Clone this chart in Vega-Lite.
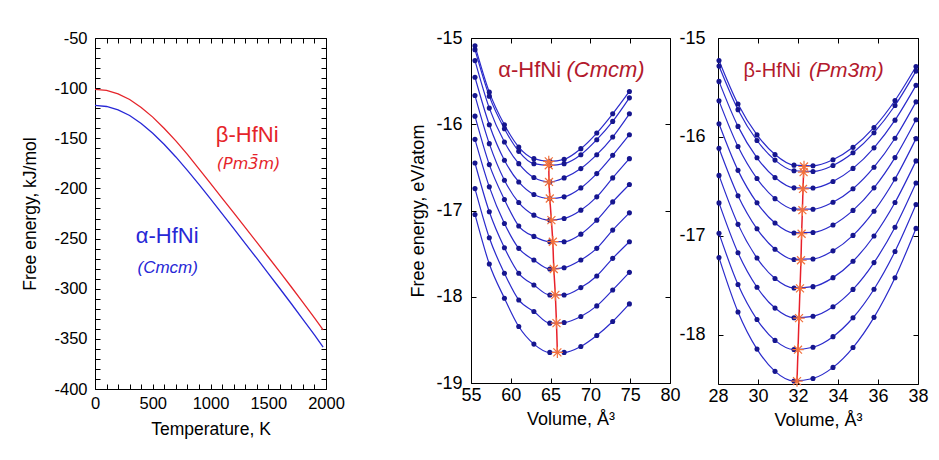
{
"$schema":"https://vega.github.io/schema/vega-lite/v6.json",
"padding":{"left":21,"top":28,"right":0,"bottom":0},
"background":"white",
"config":{
 "font":"Liberation Sans",
 "view":{"stroke":"black","strokeWidth":1},
 "axis":{"grid":false,"domain":false,"labelColor":"black","titleColor":"black","tickColor":"black","tickWidth":1,"titleFontWeight":"normal","labelFont":"Liberation Sans","titleFont":"Liberation Sans","labelOverlap":false,"labelFlush":false,"labelBound":false},
 "locale":{"number":{"decimal":".","thousands":"","grouping":[3],"currency":["$",""],"minus":"-"}}
},
"datasets":{
 "p1":[
  {"phase":"beta","T":0,"G":-101.2},{"phase":"beta","T":100,"G":-102.3},{"phase":"beta","T":200,"G":-105.7},{"phase":"beta","T":300,"G":-111.3},{"phase":"beta","T":400,"G":-119.2},{"phase":"beta","T":500,"G":-128.9},{"phase":"beta","T":600,"G":-140.2},{"phase":"beta","T":700,"G":-152.6},{"phase":"beta","T":800,"G":-166.0},{"phase":"beta","T":900,"G":-180.5},{"phase":"beta","T":1000,"G":-195.0},{"phase":"beta","T":1100,"G":-209.6},{"phase":"beta","T":1200,"G":-224.2},{"phase":"beta","T":1300,"G":-238.9},{"phase":"beta","T":1400,"G":-253.6},{"phase":"beta","T":1500,"G":-268.4},{"phase":"beta","T":1600,"G":-283.3},{"phase":"beta","T":1700,"G":-298.3},{"phase":"beta","T":1800,"G":-313.6},{"phase":"beta","T":1900,"G":-329.0},{"phase":"beta","T":1975,"G":-341.0},
  {"phase":"alpha","T":0,"G":-117.2},{"phase":"alpha","T":100,"G":-118.3},{"phase":"alpha","T":200,"G":-121.7},{"phase":"alpha","T":300,"G":-127.3},{"phase":"alpha","T":400,"G":-135.2},{"phase":"alpha","T":500,"G":-144.9},{"phase":"alpha","T":600,"G":-156.2},{"phase":"alpha","T":700,"G":-168.6},{"phase":"alpha","T":800,"G":-182.0},{"phase":"alpha","T":900,"G":-196.0},{"phase":"alpha","T":1000,"G":-210.4},{"phase":"alpha","T":1100,"G":-225.1},{"phase":"alpha","T":1200,"G":-239.8},{"phase":"alpha","T":1300,"G":-254.7},{"phase":"alpha","T":1400,"G":-269.6},{"phase":"alpha","T":1500,"G":-284.7},{"phase":"alpha","T":1600,"G":-299.8},{"phase":"alpha","T":1700,"G":-315.0},{"phase":"alpha","T":1800,"G":-330.5},{"phase":"alpha","T":1900,"G":-346.0},{"phase":"alpha","T":1975,"G":-358.3}
 ],
 "p2":[
  {"c":1,"V":55.5,"E":-15.089},{"c":1,"V":57.3,"E":-15.628},{"c":1,"V":59.2,"E":-16.006},{"c":1,"V":61.0,"E":-16.264},{"c":1,"V":62.9,"E":-16.399},{"c":1,"V":64.9,"E":-16.430},{"c":1,"V":66.7,"E":-16.407},{"c":1,"V":68.8,"E":-16.283},{"c":1,"V":70.8,"E":-16.102},{"c":1,"V":72.8,"E":-15.879},{"c":1,"V":74.9,"E":-15.620},
  {"c":2,"V":55.5,"E":-15.135},{"c":2,"V":57.3,"E":-15.674},{"c":2,"V":59.2,"E":-16.052},{"c":2,"V":61.0,"E":-16.314},{"c":2,"V":62.9,"E":-16.457},{"c":2,"V":64.9,"E":-16.476},{"c":2,"V":66.7,"E":-16.457},{"c":2,"V":68.8,"E":-16.353},{"c":2,"V":70.8,"E":-16.179},{"c":2,"V":72.8,"E":-15.967},{"c":2,"V":74.9,"E":-15.694},
  {"c":3,"V":55.5,"E":-15.262},{"c":3,"V":57.3,"E":-15.813},{"c":3,"V":59.2,"E":-16.206},{"c":3,"V":61.0,"E":-16.457},{"c":3,"V":62.9,"E":-16.618},{"c":3,"V":64.9,"E":-16.669},{"c":3,"V":66.7,"E":-16.622},{"c":3,"V":68.8,"E":-16.514},{"c":3,"V":70.8,"E":-16.353},{"c":3,"V":72.8,"E":-16.148},{"c":3,"V":74.9,"E":-15.879},
  {"c":4,"V":55.5,"E":-15.455},{"c":4,"V":57.3,"E":-16.006},{"c":4,"V":59.2,"E":-16.418},{"c":4,"V":61.0,"E":-16.669},{"c":4,"V":62.9,"E":-16.815},{"c":4,"V":64.9,"E":-16.861},{"c":4,"V":66.7,"E":-16.842},{"c":4,"V":68.8,"E":-16.738},{"c":4,"V":70.8,"E":-16.572},{"c":4,"V":72.8,"E":-16.360},{"c":4,"V":74.9,"E":-16.121},
  {"c":5,"V":55.5,"E":-15.667},{"c":5,"V":57.3,"E":-16.225},{"c":5,"V":59.2,"E":-16.649},{"c":5,"V":61.0,"E":-16.908},{"c":5,"V":62.9,"E":-17.054},{"c":5,"V":64.9,"E":-17.112},{"c":5,"V":66.7,"E":-17.092},{"c":5,"V":68.8,"E":-16.996},{"c":5,"V":70.8,"E":-16.842},{"c":5,"V":72.8,"E":-16.622},{"c":5,"V":74.9,"E":-16.399},
  {"c":6,"V":55.5,"E":-15.906},{"c":6,"V":57.3,"E":-16.468},{"c":6,"V":59.2,"E":-16.873},{"c":6,"V":61.0,"E":-17.180},{"c":6,"V":62.9,"E":-17.300},{"c":6,"V":64.9,"E":-17.362},{"c":6,"V":66.7,"E":-17.362},{"c":6,"V":68.8,"E":-17.274},{"c":6,"V":70.8,"E":-17.112},{"c":6,"V":72.8,"E":-16.900},{"c":6,"V":74.9,"E":-16.699},
  {"c":7,"V":55.5,"E":-16.175},{"c":7,"V":57.3,"E":-16.726},{"c":7,"V":59.2,"E":-17.150},{"c":7,"V":61.0,"E":-17.439},{"c":7,"V":62.9,"E":-17.574},{"c":7,"V":64.9,"E":-17.678},{"c":7,"V":66.7,"E":-17.663},{"c":7,"V":68.8,"E":-17.574},{"c":7,"V":70.8,"E":-17.439},{"c":7,"V":72.8,"E":-17.227},{"c":7,"V":74.9,"E":-17.027},
  {"c":8,"V":55.5,"E":-16.449},{"c":8,"V":57.3,"E":-17.015},{"c":8,"V":59.2,"E":-17.432},{"c":8,"V":61.0,"E":-17.728},{"c":8,"V":62.9,"E":-17.863},{"c":8,"V":64.9,"E":-17.979},{"c":8,"V":66.7,"E":-17.979},{"c":8,"V":68.8,"E":-17.894},{"c":8,"V":70.8,"E":-17.759},{"c":8,"V":72.8,"E":-17.555},{"c":8,"V":74.9,"E":-17.362},
  {"c":9,"V":55.5,"E":-16.746},{"c":9,"V":57.3,"E":-17.316},{"c":9,"V":59.2,"E":-17.728},{"c":9,"V":61.0,"E":-18.037},{"c":9,"V":62.9,"E":-18.171},{"c":9,"V":64.9,"E":-18.306},{"c":9,"V":66.7,"E":-18.299},{"c":9,"V":68.8,"E":-18.229},{"c":9,"V":70.8,"E":-18.106},{"c":9,"V":72.8,"E":-17.921},{"c":9,"V":74.9,"E":-17.717},
  {"c":10,"V":55.5,"E":-17.046},{"c":10,"V":57.3,"E":-17.620},{"c":10,"V":59.2,"E":-18.017},{"c":10,"V":61.0,"E":-18.345},{"c":10,"V":62.9,"E":-18.549},{"c":10,"V":64.9,"E":-18.645},{"c":10,"V":66.7,"E":-18.645},{"c":10,"V":68.8,"E":-18.576},{"c":10,"V":70.8,"E":-18.449},{"c":10,"V":72.8,"E":-18.287},{"c":10,"V":74.9,"E":-18.083}
 ],
 "p2min":[
  {"c":1,"V":64.77,"E":-16.43},{"c":2,"V":64.77,"E":-16.476},{"c":3,"V":64.8,"E":-16.669},{"c":4,"V":64.9,"E":-16.861},{"c":5,"V":65.1,"E":-17.112},{"c":6,"V":65.28,"E":-17.362},{"c":7,"V":65.4,"E":-17.678},{"c":8,"V":65.6,"E":-17.979},{"c":9,"V":65.74,"E":-18.306},{"c":10,"V":65.85,"E":-18.645}
 ],
 "p3":[
  {"c":1,"V":28.05,"E":-15.227},{"c":1,"V":29.0,"E":-15.668},{"c":1,"V":29.95,"E":-15.980},{"c":1,"V":30.85,"E":-16.178},{"c":1,"V":31.8,"E":-16.286},{"c":1,"V":32.75,"E":-16.293},{"c":1,"V":33.75,"E":-16.232},{"c":1,"V":34.75,"E":-16.106},{"c":1,"V":35.8,"E":-15.905},{"c":1,"V":36.85,"E":-15.632},{"c":1,"V":37.9,"E":-15.288},
  {"c":2,"V":28.05,"E":-15.284},{"c":2,"V":29.0,"E":-15.725},{"c":2,"V":29.95,"E":-16.037},{"c":2,"V":30.85,"E":-16.235},{"c":2,"V":31.8,"E":-16.343},{"c":2,"V":32.75,"E":-16.350},{"c":2,"V":33.75,"E":-16.289},{"c":2,"V":34.75,"E":-16.161},{"c":2,"V":35.8,"E":-15.958},{"c":2,"V":36.85,"E":-15.683},{"c":2,"V":37.9,"E":-15.335},
  {"c":3,"V":28.05,"E":-15.439},{"c":3,"V":29.0,"E":-15.894},{"c":3,"V":29.95,"E":-16.212},{"c":3,"V":30.85,"E":-16.412},{"c":3,"V":31.8,"E":-16.516},{"c":3,"V":32.75,"E":-16.518},{"c":3,"V":33.75,"E":-16.451},{"c":3,"V":34.75,"E":-16.319},{"c":3,"V":35.8,"E":-16.111},{"c":3,"V":36.85,"E":-15.831},{"c":3,"V":37.9,"E":-15.479},
  {"c":4,"V":28.05,"E":-15.636},{"c":4,"V":29.0,"E":-16.098},{"c":4,"V":29.95,"E":-16.422},{"c":4,"V":30.85,"E":-16.625},{"c":4,"V":31.8,"E":-16.731},{"c":4,"V":32.75,"E":-16.732},{"c":4,"V":33.75,"E":-16.662},{"c":4,"V":34.75,"E":-16.525},{"c":4,"V":35.8,"E":-16.307},{"c":4,"V":36.85,"E":-16.014},{"c":4,"V":37.9,"E":-15.646},
  {"c":5,"V":28.05,"E":-15.867},{"c":5,"V":29.0,"E":-16.339},{"c":5,"V":29.95,"E":-16.667},{"c":5,"V":30.85,"E":-16.871},{"c":5,"V":31.8,"E":-16.972},{"c":5,"V":32.75,"E":-16.967},{"c":5,"V":33.75,"E":-16.891},{"c":5,"V":34.75,"E":-16.744},{"c":5,"V":35.8,"E":-16.516},{"c":5,"V":36.85,"E":-16.210},{"c":5,"V":37.9,"E":-15.827},
  {"c":6,"V":28.05,"E":-16.115},{"c":6,"V":29.0,"E":-16.595},{"c":6,"V":29.95,"E":-16.930},{"c":6,"V":30.85,"E":-17.137},{"c":6,"V":31.8,"E":-17.240},{"c":6,"V":32.75,"E":-17.235},{"c":6,"V":33.75,"E":-17.153},{"c":6,"V":34.75,"E":-16.997},{"c":6,"V":35.8,"E":-16.752},{"c":6,"V":36.85,"E":-16.426},{"c":6,"V":37.9,"E":-16.018},
  {"c":7,"V":28.05,"E":-16.390},{"c":7,"V":29.0,"E":-16.885},{"c":7,"V":29.95,"E":-17.226},{"c":7,"V":30.85,"E":-17.433},{"c":7,"V":31.8,"E":-17.529},{"c":7,"V":32.75,"E":-17.515},{"c":7,"V":33.75,"E":-17.424},{"c":7,"V":34.75,"E":-17.258},{"c":7,"V":35.8,"E":-17.003},{"c":7,"V":36.85,"E":-16.664},{"c":7,"V":37.9,"E":-16.243},
  {"c":8,"V":28.05,"E":-16.668},{"c":8,"V":29.0,"E":-17.173},{"c":8,"V":29.95,"E":-17.521},{"c":8,"V":30.85,"E":-17.732},{"c":8,"V":31.8,"E":-17.830},{"c":8,"V":32.75,"E":-17.815},{"c":8,"V":33.75,"E":-17.719},{"c":8,"V":34.75,"E":-17.543},{"c":8,"V":35.8,"E":-17.272},{"c":8,"V":36.85,"E":-16.914},{"c":8,"V":37.9,"E":-16.467},
  {"c":9,"V":28.05,"E":-16.976},{"c":9,"V":29.0,"E":-17.494},{"c":9,"V":29.95,"E":-17.848},{"c":9,"V":30.85,"E":-18.059},{"c":9,"V":31.8,"E":-18.151},{"c":9,"V":32.75,"E":-18.128},{"c":9,"V":33.75,"E":-18.021},{"c":9,"V":34.75,"E":-17.830},{"c":9,"V":35.8,"E":-17.541},{"c":9,"V":36.85,"E":-17.159},{"c":9,"V":37.9,"E":-16.685},
  {"c":10,"V":28.05,"E":-17.221},{"c":10,"V":29.0,"E":-17.771},{"c":10,"V":29.95,"E":-18.147},{"c":10,"V":30.85,"E":-18.372},{"c":10,"V":31.8,"E":-18.469},{"c":10,"V":32.75,"E":-18.444},{"c":10,"V":33.75,"E":-18.332},{"c":10,"V":34.75,"E":-18.131},{"c":10,"V":35.8,"E":-17.826},{"c":10,"V":36.85,"E":-17.425},{"c":10,"V":37.9,"E":-16.926}
 ],
 "p3min":[
  {"c":1,"V":32.3,"E":-16.300},{"c":2,"V":32.28,"E":-16.357},{"c":3,"V":32.25,"E":-16.527},{"c":4,"V":32.22,"E":-16.742},{"c":5,"V":32.18,"E":-16.980},{"c":6,"V":32.15,"E":-17.248},{"c":7,"V":32.1,"E":-17.533},{"c":8,"V":32.05,"E":-17.834},{"c":9,"V":32.0,"E":-18.153},{"c":10,"V":31.95,"E":-18.471}
 ]
},
"spacing":64,
"hconcat":[
 {
  "width":231,"height":351,
  "layer":[
   {"data":{"name":"p1"},"mark":{"type":"line","strokeWidth":1.3},
    "encoding":{
     "x":{"field":"T","type":"quantitative","scale":{"domain":[0,2000],"nice":false,"zero":false},
      "axis":{"orient":"bottom","values":[0,100,200,300,400,500,600,700,800,900,1000,1100,1200,1300,1400,1500,1600,1700,1800,1900,2000],"format":"d","labelExpr":"datum.value % 500 == 0 ? datum.label : ''","ticks":false,"labelPadding":6,"labelFontSize":16.5,"title":"Temperature, K","titleFontSize":17.5,"titlePadding":9,"grid":true,"gridColor":"black","gridOpacity":1,"gridWidth":1,"gridDash":[5,341,5,1000]}},
     "y":{"field":"G","type":"quantitative","scale":{"domain":[-400,-50],"nice":false,"zero":false},
      "axis":{"orient":"left","values":[-50,-60,-70,-80,-90,-100,-110,-120,-130,-140,-150,-160,-170,-180,-190,-200,-210,-220,-230,-240,-250,-260,-270,-280,-290,-300,-310,-320,-330,-340,-350,-360,-370,-380,-390,-400],"format":"d","labelExpr":"datum.value % 50 == 0 ? datum.label : ''","ticks":false,"labelPadding":8,"labelFontSize":16.5,"title":"Free energy,  kJ/mol","titleFontSize":17.5,"titlePadding":14,"grid":true,"gridColor":"black","gridOpacity":1,"gridWidth":1,"gridDash":[5,221,5,1000]}},
     "color":{"field":"phase","type":"nominal","scale":{"domain":["alpha","beta"],"range":["#2727d6","#e5242a"]},"legend":null}
    }},
   {"data":{"values":[{}]},"mark":{"type":"text","text":"β-HfNi","align":"left","baseline":"alphabetic","fontSize":22,"color":"#e5242a"},
    "encoding":{"x":{"datum":1046,"type":"quantitative","axis":null},"y":{"datum":-154.2,"type":"quantitative","axis":null}}},
   {"data":{"values":[{}]},"mark":{"type":"text","text":"(Pm3̄m)","font":"DejaVu Sans","align":"left","baseline":"alphabetic","fontSize":16,"fontStyle":"italic","color":"#e5242a"},
    "encoding":{"x":{"datum":1055,"type":"quantitative","axis":null},"y":{"datum":-180.6,"type":"quantitative","axis":null}}},
   {"data":{"values":[{}]},"mark":{"type":"text","text":"α-HfNi","align":"left","baseline":"alphabetic","fontSize":22,"color":"#2727d6"},
    "encoding":{"x":{"datum":353,"type":"quantitative","axis":null},"y":{"datum":-254.7,"type":"quantitative","axis":null}}},
   {"data":{"values":[{}]},"mark":{"type":"text","text":"(Cmcm)","align":"left","baseline":"alphabetic","fontSize":17,"fontStyle":"italic","color":"#2727d6"},
    "encoding":{"x":{"datum":368,"type":"quantitative","axis":null},"y":{"datum":-284.8,"type":"quantitative","axis":null}}}
  ],
  "resolve":{"axis":{"x":"independent","y":"independent"}}
 },
 {
  "spacing":-3,
  "hconcat":[
   {
    "width":199,"height":345,
    "layer":[
     {"data":{"name":"p2"},"mark":{"type":"line","interpolate":"monotone","strokeWidth":1.2,"color":"#2a2acb"},
      "encoding":{
       "x":{"field":"V","type":"quantitative","scale":{"domain":[55,80],"nice":false,"zero":false},
        "axis":{"orient":"bottom","values":[55,60,65,70,75,80],"format":"d","ticks":false,"labelPadding":3,"labelFontSize":18,"title":"Volume,  Å³","titleFontSize":18,"titlePadding":6,"grid":true,"gridColor":"black","gridOpacity":1,"gridWidth":1,"gridDash":[5,335,5,1000]}},
       "y":{"field":"E","type":"quantitative","scale":{"domain":[-19,-15],"nice":false,"zero":false},
        "axis":{"orient":"left","values":[-15,-15.5,-16,-16.5,-17,-17.5,-18,-18.5,-19],"format":"d","labelExpr":"datum.value % 1 == 0 ? datum.label : ''","ticks":false,"labelPadding":9,"labelFontSize":18,"title":"Free energy,  eV/atom","titleFontSize":18,"titlePadding":8,"grid":true,"gridColor":"black","gridOpacity":1,"gridWidth":1,"gridDash":[5,189,5,1000]}},
       "detail":{"field":"c","type":"nominal"}
      }},
     {"data":{"name":"p2"},"mark":{"type":"circle","size":26,"opacity":1,"color":"#16168f"},
      "encoding":{"x":{"field":"V","type":"quantitative","axis":null},"y":{"field":"E","type":"quantitative","axis":null}}},
     {"data":{"name":"p2min"},"mark":{"type":"line","color":"#e8202a","strokeWidth":1.5},
      "encoding":{"x":{"field":"V","type":"quantitative","axis":null},"y":{"field":"E","type":"quantitative","axis":null},"order":{"field":"c","type":"quantitative"}}},
     {"data":{"name":"p2min"},"mark":{"type":"point","shape":"M-1,0L1,0M0,-1L0,1M-0.7,-0.7L0.7,0.7M-0.7,0.7L0.7,-0.7","size":130,"filled":false,"stroke":"#f2703c","strokeWidth":1.2,"opacity":1},
      "encoding":{"x":{"field":"V","type":"quantitative","axis":null},"y":{"field":"E","type":"quantitative","axis":null}}},
     {"data":{"values":[{}]},"mark":{"type":"text","text":"α-HfNi","align":"left","baseline":"alphabetic","fontSize":22,"color":"#b3192c"},
      "encoding":{"x":{"datum":58.42,"type":"quantitative","axis":null},"y":{"datum":-15.454,"type":"quantitative","axis":null}}},
     {"data":{"values":[{}]},"mark":{"type":"text","text":"(Cmcm)","align":"left","baseline":"alphabetic","fontSize":22,"fontStyle":"italic","color":"#b3192c"},
      "encoding":{"x":{"datum":66.99,"type":"quantitative","axis":null},"y":{"datum":-15.454,"type":"quantitative","axis":null}}}
    ],
    "resolve":{"axis":{"x":"independent","y":"independent"}}
   },
   {
    "width":200,"height":346,
    "layer":[
     {"data":{"name":"p3"},"mark":{"type":"line","interpolate":"monotone","strokeWidth":1.2,"color":"#2a2acb"},
      "encoding":{
       "x":{"field":"V","type":"quantitative","scale":{"domain":[28,38],"nice":false,"zero":false},
        "axis":{"orient":"bottom","values":[28,30,32,34,36,38],"format":"d","ticks":false,"labelPadding":3,"labelFontSize":18,"title":"Volume,  Å³","titleFontSize":18,"titlePadding":6,"grid":true,"gridColor":"black","gridOpacity":1,"gridWidth":1,"gridDash":[5,336,5,1000]}},
       "y":{"field":"E","type":"quantitative","scale":{"domain":[-18.5,-15],"nice":false,"zero":false},
        "axis":{"orient":"left","values":[-15,-16,-17,-18],"format":"d","ticks":false,"labelPadding":13,"labelFontSize":18,"title":null,"grid":true,"gridColor":"black","gridOpacity":1,"gridWidth":1,"gridDash":[5,190,5,1000]}},
       "detail":{"field":"c","type":"nominal"}
      }},
     {"data":{"name":"p3"},"mark":{"type":"circle","size":26,"opacity":1,"color":"#16168f"},
      "encoding":{"x":{"field":"V","type":"quantitative","axis":null},"y":{"field":"E","type":"quantitative","axis":null}}},
     {"data":{"name":"p3min"},"mark":{"type":"line","color":"#e8202a","strokeWidth":1.5},
      "encoding":{"x":{"field":"V","type":"quantitative","axis":null},"y":{"field":"E","type":"quantitative","axis":null},"order":{"field":"c","type":"quantitative"}}},
     {"data":{"name":"p3min"},"mark":{"type":"point","shape":"M-1,0L1,0M0,-1L0,1M-0.7,-0.7L0.7,0.7M-0.7,0.7L0.7,-0.7","size":130,"filled":false,"stroke":"#f2703c","strokeWidth":1.2,"opacity":1},
      "encoding":{"x":{"field":"V","type":"quantitative","axis":null},"y":{"field":"E","type":"quantitative","axis":null}}},
     {"data":{"values":[{}]},"mark":{"type":"text","text":"β-HfNi","align":"left","baseline":"alphabetic","fontSize":20,"color":"#b3192c"},
      "encoding":{"x":{"datum":29.28,"type":"quantitative","axis":null},"y":{"datum":-15.395,"type":"quantitative","axis":null}}},
     {"data":{"values":[{}]},"mark":{"type":"text","text":"(Pm3m)","align":"left","baseline":"alphabetic","fontSize":21,"fontStyle":"italic","color":"#b3192c"},
      "encoding":{"x":{"datum":32.55,"type":"quantitative","axis":null},"y":{"datum":-15.395,"type":"quantitative","axis":null}}}
    ],
    "resolve":{"axis":{"x":"independent","y":"independent"}}
   }
  ]
 }
]
}
